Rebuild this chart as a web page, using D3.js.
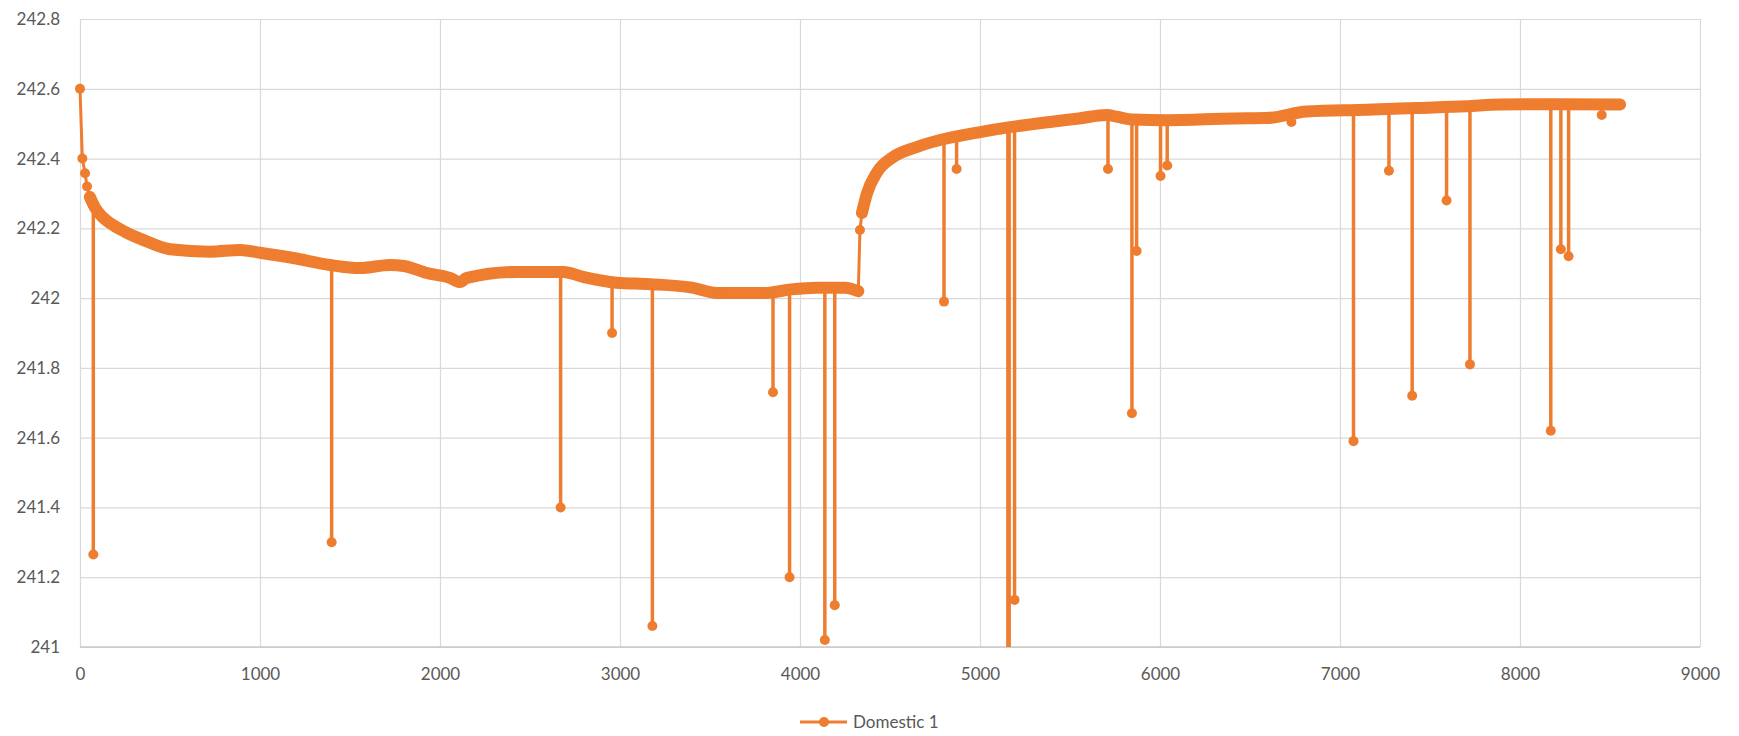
<!DOCTYPE html>
<html>
<head>
<meta charset="utf-8">
<script src="https://cdn.jsdelivr.net/npm/d3@7"></script>
<style>
  html, body { margin: 0; padding: 0; background: #ffffff; }
  svg { display: block; }
  .tick text { font-family: Lato, "Open Sans", sans-serif; font-size: 17px; fill: #595959; }
  .legend text { font-family: Lato, "Open Sans", sans-serif; font-size: 17px; fill: #595959; }
</style>
</head>
<body>
<script>
// Sample index (x) and voltage readings for the continuous trace
const traceX = [0, 13, 28, 39, 55, 83, 120, 167, 250, 350, 500, 722, 889, 1000, 1185, 1389, 1556, 1722, 1800, 1926,
  2055, 2111, 2150, 2426, 2685, 2800, 2981, 3167, 3400, 3537, 3815, 3950, 4093, 4250, 4324,
  4333, 4344, 4372, 4427, 4519, 4648, 4778, 5000, 5167, 5389, 5550, 5704, 5760, 5852, 6037, 6407, 6593,
  6815, 7148, 7426, 7704, 7889, 8185, 8556];
const traceV = [242.60, 242.40, 242.358, 242.32, 242.29, 242.26, 242.235, 242.215, 242.19, 242.167, 242.14, 242.133, 242.138, 242.13, 242.115, 242.095, 242.086, 242.095, 242.092, 242.072,
  242.058, 242.046, 242.058, 242.075, 242.075, 242.06, 242.044, 242.04, 242.03, 242.015, 242.015, 242.025, 242.03, 242.03, 242.02,
  242.195, 242.244, 242.30, 242.36, 242.405, 242.433, 242.453, 242.476, 242.49, 242.505, 242.515, 242.525, 242.52, 242.512, 242.51, 242.515, 242.516,
  242.535, 242.54, 242.545, 242.55, 242.555, 242.556, 242.555];

// Momentary sags: sample index, level just before the sag, and the sag reading
const dipX    = [74, 1398, 2670, 2956, 3180, 3850, 3942, 4138, 4193, 4800, 4870, 5155, 5162, 5192, 5711, 5844, 5870, 6003, 6040, 6730, 7075, 7272, 7401, 7592, 7722, 8171, 8227, 8270, 8454];
const dipFrom = [242.27, 242.095, 242.075, 242.045, 242.04, 242.015, 242.02, 242.03, 242.03, 242.455, 242.46, 242.49, 242.49, 242.49, 242.525, 242.515, 242.512, 242.51, 242.51, 242.516, 242.54, 242.54, 242.545, 242.545, 242.55, 242.556, 242.556, 242.556, 242.556];
const dipV    = [241.265, 241.30, 241.40, 241.90, 241.06, 241.73, 241.20, 241.02, 241.12, 241.99, 242.37, 240.90, 240.95, 241.135, 242.37, 241.67, 242.135, 242.35, 242.38, 242.505, 241.59, 242.365, 241.72, 242.28, 241.81, 241.62, 242.14, 242.12, 242.525];

// Axis ticks
const xTicks = [0, 1000, 2000, 3000, 4000, 5000, 6000, 7000, 8000, 9000];
const yTicks = [241, 241.2, 241.4, 241.6, 241.8, 242, 242.2, 242.4, 242.6, 242.8];

const seriesName = "Domestic 1";
const color = "#EE7D2F";

const W = 1739, H = 736;
const m = { left: 80, right: 39, top: 19, bottom: 89 };
const iw = W - m.left - m.right, ih = H - m.top - m.bottom;

const svg = d3.select("body").append("svg").attr("width", W).attr("height", H);
const g = svg.append("g").attr("transform", `translate(${m.left},${m.top})`);

const x = d3.scaleLinear().domain([0, 9000]).range([0, iw]);
const y = d3.scaleLinear().domain([241, 242.8]).range([ih, 0]);

// Gridlines + labels
const yAxis = g.append("g")
  .call(d3.axisLeft(y).tickValues(yTicks).tickSize(-iw).tickPadding(20).tickFormat(d3.format("~g")));
const xAxis = g.append("g").attr("transform", `translate(0,${ih})`)
  .call(d3.axisBottom(x).tickValues(xTicks).tickSize(-ih).tickPadding(21).tickFormat(d3.format("d")));
[yAxis, xAxis].forEach(a => {
  a.select(".domain").remove();
  a.selectAll(".tick line").attr("stroke", "#D9D9D9").attr("stroke-width", 1.2);
});
g.append("line").attr("x1", 0).attr("x2", iw).attr("y1", ih).attr("y2", ih)
  .attr("stroke", "#C8C8C8").attr("stroke-width", 1.5);

g.append("clipPath").attr("id", "plot").append("rect")
  .attr("x", -8).attr("y", -8).attr("width", iw + 16).attr("height", ih + 8);
const plot = g.append("g").attr("clip-path", "url(#plot)");

const pts = traceX.map((d, i) => ({ x: d, v: traceV[i] }));
const line = d3.line().x(d => x(d.x)).y(d => y(d.v));
const smooth = d3.line().x(d => x(d.x)).y(d => y(d.v)).curve(d3.curveMonotoneX);

// Sag spikes
dipX.forEach((d, i) => {
  plot.append("line")
    .attr("x1", x(d)).attr("x2", x(d))
    .attr("y1", y(dipFrom[i])).attr("y2", y(dipV[i]))
    .attr("stroke", color).attr("stroke-width", 3.5);
});

// Thin connector through every reading
plot.append("path").datum(pts).attr("d", line)
  .attr("fill", "none").attr("stroke", color).attr("stroke-width", 3).attr("stroke-linejoin", "round");

// Densely sampled stretches merge into a thick band of overlapping markers
const dense1 = pts.filter(p => p.x >= 55 && p.x <= 4324);
const dense2 = pts.filter(p => p.x >= 4344);
[dense1, dense2].forEach(seg => {
  plot.append("path").datum(seg).attr("d", smooth)
    .attr("fill", "none").attr("stroke", color).attr("stroke-width", 12)
    .attr("stroke-linejoin", "round").attr("stroke-linecap", "round");
});

// Markers
plot.selectAll("circle.trace").data(pts).join("circle").attr("class", "trace")
  .attr("cx", d => x(d.x)).attr("cy", d => y(d.v)).attr("r", 5).attr("fill", color);
plot.selectAll("circle.dip").data(dipX.map((d, i) => ({ x: d, v: dipV[i] })).filter(d => d.v >= 241))
  .join("circle").attr("class", "dip")
  .attr("cx", d => x(d.x)).attr("cy", d => y(d.v)).attr("r", 5).attr("fill", color);

// Legend
const lg = svg.append("g").attr("class", "legend").attr("transform", "translate(800,722)");
lg.append("line").attr("x1", 0).attr("x2", 47).attr("y1", 0).attr("y2", 0)
  .attr("stroke", color).attr("stroke-width", 3);
lg.append("circle").attr("cx", 24).attr("cy", 0).attr("r", 5).attr("fill", color);
lg.append("text").attr("x", 53).attr("y", 0).attr("dy", "0.35em").text(seriesName);
</script>
</body>
</html>
